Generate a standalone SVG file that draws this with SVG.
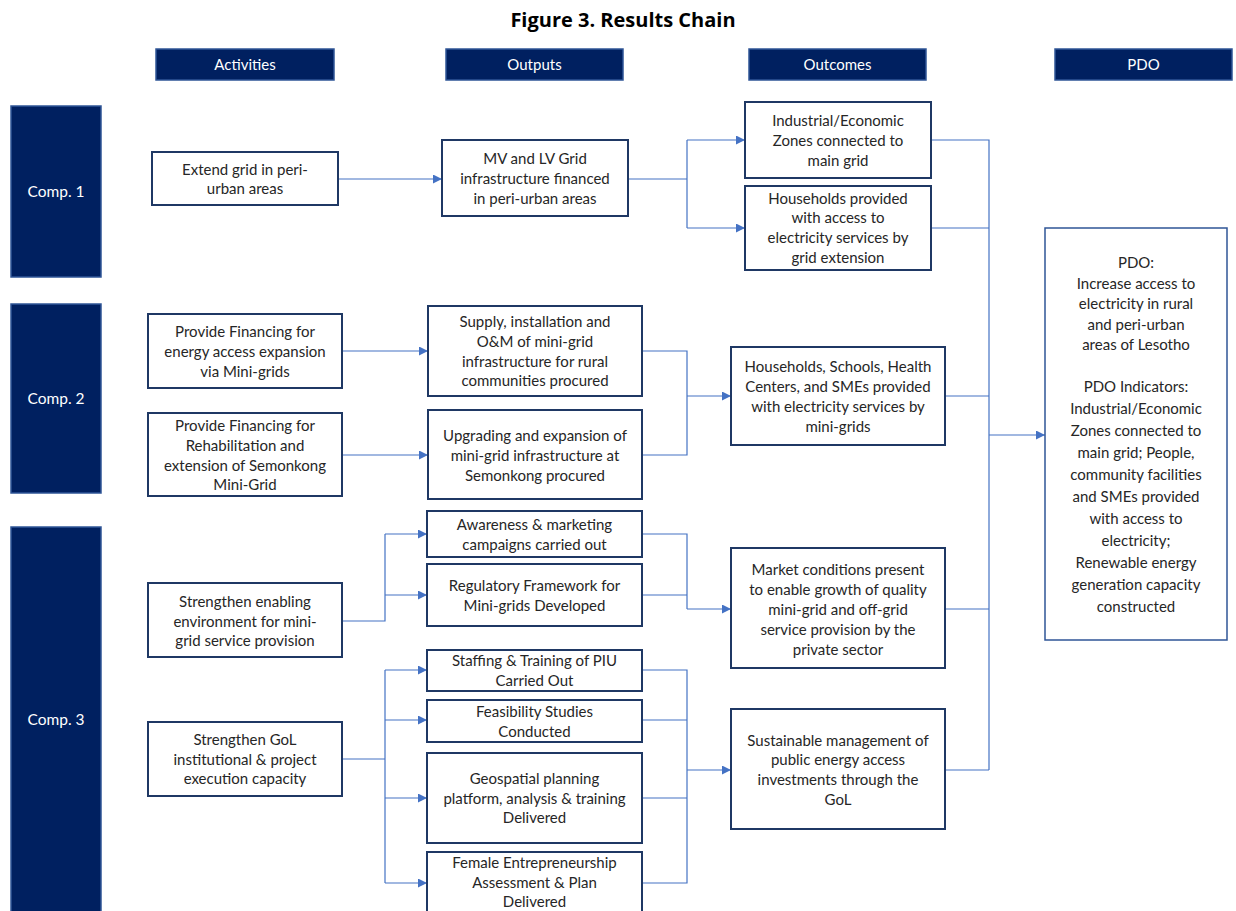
<svg xmlns="http://www.w3.org/2000/svg" width="1236" height="911" viewBox="0 0 1236 911">
<defs>
<marker id="arr" viewBox="0 0 10 10" refX="10" refY="5" markerWidth="9" markerHeight="9" markerUnits="userSpaceOnUse" orient="auto">
<path d="M0,0 L10,5 L0,10 z" fill="#4472C4"/>
</marker>
</defs>
<style>
.hdr{fill:#002060;stroke:#2F5597;stroke-width:1.5}
.comp{fill:#002060;stroke:#2F5597;stroke-width:1.5}
.box{fill:#ffffff;stroke:#1F3864;stroke-width:2}
.pdo{fill:#ffffff;stroke:#2F5597;stroke-width:1.5}
.ht{font-family:Lato,"Liberation Sans",sans-serif;font-size:15px;fill:#ffffff;text-anchor:middle}
.ct{font-family:Lato,"Liberation Sans",sans-serif;font-size:15.5px;fill:#ffffff;text-anchor:middle}
.t{font-family:Lato,"Liberation Sans",sans-serif;font-size:15px;fill:#262626;text-anchor:middle}
.title{font-family:"Open Sans","Liberation Sans",sans-serif;font-size:20px;font-weight:bold;fill:#000000;text-anchor:middle}
.c{fill:none;stroke:#4472C4;stroke-width:1.2}
</style>
<rect width="1236" height="911" fill="#ffffff"/>
<text class="title" x="623" y="27">Figure 3. Results Chain</text>

<g id="h-activities"><rect class="hdr" x="156" y="49" width="178" height="31"/><text class="ht" x="245" y="70">Activities</text></g>
<g id="h-outputs"><rect class="hdr" x="446" y="49" width="177" height="31"/><text class="ht" x="534.5" y="70">Outputs</text></g>
<g id="h-outcomes"><rect class="hdr" x="749" y="49" width="177" height="31"/><text class="ht" x="837.5" y="70">Outcomes</text></g>
<g id="h-pdo"><rect class="hdr" x="1055" y="49" width="177" height="31"/><text class="ht" x="1143.5" y="70">PDO</text></g>

<g id="comp1"><rect class="comp" x="11" y="106" width="90" height="171"/><text class="ct" x="56" y="197">Comp. 1</text></g>
<g id="comp2"><rect class="comp" x="11" y="304" width="90" height="189"/><text class="ct" x="56" y="404">Comp. 2</text></g>
<g id="comp3"><rect class="comp" x="11" y="527" width="90" height="400"/><text class="ct" x="56" y="725">Comp. 3</text></g>

<g id="connectors">
<path class="c" d="M338,179 H442" marker-end="url(#arr)"/>
<path class="c" d="M628,179 H687 M687,140 V228"/>
<path class="c" d="M687,140 H745" marker-end="url(#arr)"/>
<path class="c" d="M687,228 H745" marker-end="url(#arr)"/>
<path class="c" d="M931,140 H989 V770 M931,228 H989 M945,396 H989 M945,609 H989 M945,770 H989"/>
<path class="c" d="M989,435 H1045" marker-end="url(#arr)"/>
<path class="c" d="M342,351 H428" marker-end="url(#arr)"/>
<path class="c" d="M342,455 H428" marker-end="url(#arr)"/>
<path class="c" d="M642,351 H687 V455 H642"/>
<path class="c" d="M687,396 H731" marker-end="url(#arr)"/>
<path class="c" d="M342,621 H385 V534"/>
<path class="c" d="M385,534 H427" marker-end="url(#arr)"/>
<path class="c" d="M385,595 H427" marker-end="url(#arr)"/>
<path class="c" d="M642,534 H687 V609 M642,595 H687"/>
<path class="c" d="M687,609 H731" marker-end="url(#arr)"/>
<path class="c" d="M342,759 H385 M385,670 V883"/>
<path class="c" d="M385,670 H427" marker-end="url(#arr)"/>
<path class="c" d="M385,720 H427" marker-end="url(#arr)"/>
<path class="c" d="M385,798 H427" marker-end="url(#arr)"/>
<path class="c" d="M385,883 H427" marker-end="url(#arr)"/>
<path class="c" d="M642,670 H687 V883 H642 M642,720 H687 M642,798 H687"/>
<path class="c" d="M687,770 H731" marker-end="url(#arr)"/>
</g>

<g id="a1"><rect class="box" x="152" y="152" width="186" height="53"/>
<text class="t" x="245" y="175">Extend grid in peri-</text><text class="t" x="245" y="194">urban areas</text></g>
<g id="a2"><rect class="box" x="148" y="314" width="194" height="74"/>
<text class="t" x="245" y="337">Provide Financing for</text><text class="t" x="245" y="357">energy access expansion</text><text class="t" x="245" y="377">via Mini-grids</text></g>
<g id="a3"><rect class="box" x="148" y="413" width="194" height="83"/>
<text class="t" x="245" y="431">Provide Financing for</text><text class="t" x="245" y="451">Rehabilitation and</text><text class="t" x="245" y="471">extension of Semonkong</text><text class="t" x="245" y="490">Mini-Grid</text></g>
<g id="a4"><rect class="box" x="148" y="583" width="194" height="74"/>
<text class="t" x="245" y="607">Strengthen enabling</text><text class="t" x="245" y="627">environment for mini-</text><text class="t" x="245" y="646">grid service provision</text></g>
<g id="a5"><rect class="box" x="148" y="722" width="194" height="74"/>
<text class="t" x="245" y="745">Strengthen GoL</text><text class="t" x="245" y="765">institutional &amp; project</text><text class="t" x="245" y="784">execution capacity</text></g>

<g id="o1"><rect class="box" x="442" y="140" width="186" height="76"/>
<text class="t" x="535" y="164">MV and LV Grid</text><text class="t" x="535" y="184">infrastructure financed</text><text class="t" x="535" y="204">in peri-urban areas</text></g>
<g id="o2"><rect class="box" x="428" y="306" width="214" height="90"/>
<text class="t" x="535" y="327">Supply, installation and</text><text class="t" x="535" y="347">O&amp;M of mini-grid</text><text class="t" x="535" y="367">infrastructure for rural</text><text class="t" x="535" y="386">communities procured</text></g>
<g id="o3"><rect class="box" x="428" y="410" width="214" height="89"/>
<text class="t" x="535" y="441">Upgrading and expansion of</text><text class="t" x="535" y="461">mini-grid infrastructure at</text><text class="t" x="535" y="481">Semonkong procured</text></g>
<g id="o4"><rect class="box" x="427" y="511" width="215" height="46"/>
<text class="t" x="534.5" y="530">Awareness &amp; marketing</text><text class="t" x="534.5" y="550">campaigns carried out</text></g>
<g id="o5"><rect class="box" x="427" y="564" width="215" height="62"/>
<text class="t" x="534.5" y="591">Regulatory Framework for</text><text class="t" x="534.5" y="611">Mini-grids Developed</text></g>
<g id="o6"><rect class="box" x="427" y="650" width="215" height="41"/>
<text class="t" x="534.5" y="666">Staffing &amp; Training of PIU</text><text class="t" x="534.5" y="686">Carried Out</text></g>
<g id="o7"><rect class="box" x="427" y="700" width="215" height="42"/>
<text class="t" x="534.5" y="717">Feasibility Studies</text><text class="t" x="534.5" y="737">Conducted</text></g>
<g id="o8"><rect class="box" x="427" y="753" width="215" height="90"/>
<text class="t" x="534.5" y="784">Geospatial planning</text><text class="t" x="534.5" y="804">platform, analysis &amp; training</text><text class="t" x="534.5" y="823">Delivered</text></g>
<g id="o9"><rect class="box" x="427" y="852" width="215" height="70"/>
<text class="t" x="534.5" y="868">Female Entrepreneurship</text><text class="t" x="534.5" y="888">Assessment &amp; Plan</text><text class="t" x="534.5" y="907">Delivered</text></g>

<g id="u1"><rect class="box" x="745" y="102" width="186" height="76"/>
<text class="t" x="838" y="126">Industrial/Economic</text><text class="t" x="838" y="146">Zones connected to</text><text class="t" x="838" y="166">main grid</text></g>
<g id="u2"><rect class="box" x="745" y="186" width="186" height="84"/>
<text class="t" x="838" y="204">Households provided</text><text class="t" x="838" y="223">with access to</text><text class="t" x="838" y="243">electricity services by</text><text class="t" x="838" y="263">grid extension</text></g>
<g id="u3"><rect class="box" x="731" y="347" width="214" height="98"/>
<text class="t" x="838" y="372">Households, Schools, Health</text><text class="t" x="838" y="392">Centers, and SMEs provided</text><text class="t" x="838" y="412">with electricity services by</text><text class="t" x="838" y="432">mini-grids</text></g>
<g id="u4"><rect class="box" x="731" y="548" width="214" height="120"/>
<text class="t" x="838" y="575">Market conditions present</text><text class="t" x="838" y="595">to enable growth of quality</text><text class="t" x="838" y="615">mini-grid and off-grid</text><text class="t" x="838" y="635">service provision by the</text><text class="t" x="838" y="655">private sector</text></g>
<g id="u5"><rect class="box" x="731" y="709" width="214" height="120"/>
<text class="t" x="838" y="746">Sustainable management of</text><text class="t" x="838" y="765">public energy access</text><text class="t" x="838" y="785">investments through the</text><text class="t" x="838" y="805">GoL</text></g>

<g id="pdo"><rect class="pdo" x="1045" y="228" width="182" height="412"/>
<text class="t" x="1136" y="268">PDO:</text>
<text class="t" x="1136" y="289">Increase access to</text>
<text class="t" x="1136" y="309">electricity in rural</text>
<text class="t" x="1136" y="330">and peri-urban</text>
<text class="t" x="1136" y="350">areas of Lesotho</text>
<text class="t" x="1136" y="392">PDO Indicators:</text>
<text class="t" x="1136" y="414">Industrial/Economic</text>
<text class="t" x="1136" y="436">Zones connected to</text>
<text class="t" x="1136" y="458">main grid; People,</text>
<text class="t" x="1136" y="480">community facilities</text>
<text class="t" x="1136" y="502">and SMEs provided</text>
<text class="t" x="1136" y="524">with access to</text>
<text class="t" x="1136" y="546">electricity;</text>
<text class="t" x="1136" y="568">Renewable energy</text>
<text class="t" x="1136" y="590">generation capacity</text>
<text class="t" x="1136" y="612">constructed</text>
</g>
</svg>
